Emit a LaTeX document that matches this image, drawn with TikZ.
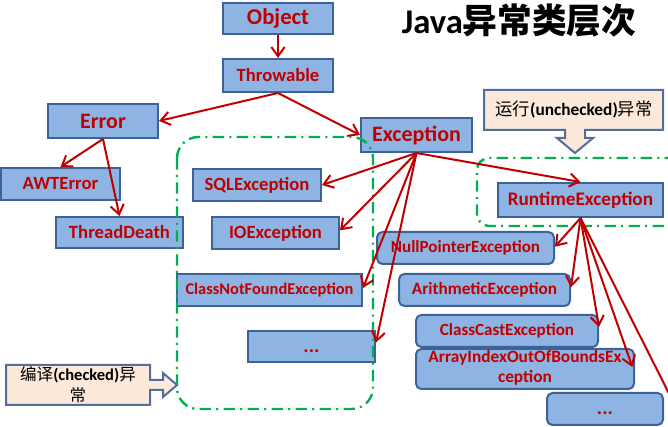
\documentclass[tikz,border=0pt]{standalone}
\usepackage{fontspec}
\setmainfont{Carlito}
\newfontfamily\cjk{Noto Sans CJK SC}
\usetikzlibrary{arrows.meta}
\definecolor{boxfill}{RGB}{142,180,227}
\definecolor{boxline}{RGB}{60,98,152}
\definecolor{txtred}{RGB}{192,0,0}
\definecolor{callfill}{RGB}{253,233,217}
\definecolor{calline}{RGB}{80,110,160}
\definecolor{grn}{RGB}{0,176,80}
\begin{document}
\begin{tikzpicture}[x=0.75pt,y=-0.75pt,
  cls/.style={draw=boxline, fill=boxfill, line width=1.5pt, inner sep=0pt, text=txtred, font=\bfseries},
  rcls/.style={cls, rounded corners=4pt},
  dotbox/.style={text height=9pt, text depth=0pt},
  inh/.style={draw=txtred, line width=1.5pt, -{Straight Barb[length=7pt,width=10pt]}},
  grp/.style={draw=grn, line width=1.8pt, dash pattern=on 8.5pt off 4pt on 1.5pt off 4pt},
  callout/.style={draw=calline, fill=callfill, line width=1.5pt, line join=miter}]
\useasboundingbox (0,0) rectangle (668,427);

% title
\node (title) at (519,21) {\bfseries\fontsize{26}{30}\selectfont Java{\cjk 异常类层次}};

% classes
\node[cls, minimum width=82.5pt, minimum height=23.25pt] (obj) at (278,18.5) {\fontsize{17}{20}\selectfont Object};
\node[cls, minimum width=82.5pt, minimum height=24.75pt] (thr) at (278,75.5) {\fontsize{14}{17}\selectfont Throwable};
\node[cls, minimum width=82.5pt, minimum height=25.5pt] (err) at (103,121) {\fontsize{16.5}{20}\selectfont Error};
\node[cls, minimum width=89.25pt, minimum height=24pt] (awt) at (60.5,184) {\fontsize{14}{17}\selectfont AWTError};
\node[cls, minimum width=95.25pt, minimum height=23.25pt] (td) at (119.5,232.5) {\fontsize{14}{17}\selectfont ThreadDeath};
\node[cls, minimum width=96pt, minimum height=24pt] (sql) at (257,185) {\fontsize{14}{17}\selectfont SQLException};
\node[cls, minimum width=95.25pt, minimum height=24pt] (io) at (275.5,233) {\fontsize{14}{17}\selectfont IOException};
\node[cls, minimum width=138.75pt, minimum height=24pt] (cnf) at (269.5,290) {\fontsize{12.3}{15}\selectfont ClassNotFoundException};
\node[cls, dotbox, minimum width=95.25pt, minimum height=23.25pt] (dl) at (311.5,346.5) {\fontsize{15}{17}\selectfont ...};
\node[cls, minimum width=83.25pt, minimum height=25.5pt] (exc) at (416.5,135) {\fontsize{16.5}{20}\selectfont Exception};
\node[cls, minimum width=123.75pt, minimum height=25.5pt] (rt) at (580.5,200) {\fontsize{14.4}{17}\selectfont RuntimeException};
\node[rcls, minimum width=132.75pt, minimum height=24pt] (npe) at (465.5,248) {\fontsize{12.8}{15}\selectfont NullPointerException};
\node[rcls, minimum width=128.25pt, minimum height=24pt] (ari) at (484.5,290) {\fontsize{12.9}{15}\selectfont ArithmeticException};
\node[rcls, minimum width=136.5pt, minimum height=24pt] (cce) at (507,331) {\fontsize{12.8}{15}\selectfont ClassCastException};
\node[rcls, minimum width=163.5pt, minimum height=24pt] (aio) at (525,369) {\fontsize{13}{15}\selectfont\begin{tabular}{@{}c@{}}ArrayIndexOutOfBoundsEx\\ception\end{tabular}};
\node[rcls, dotbox, minimum width=87pt, minimum height=24pt] (dr) at (605,409) {\fontsize{15}{17}\selectfont ...};
\coordinate (off) at (700,455);

% groups
\draw[grp, rounded corners=16pt] (177,137) rectangle (373,409);
\draw[grp, rounded corners=9pt] (700,158) -- (477,158) -- (477,226) -- (700,226);

% callouts
\draw[callout] (484,90) -- (663,90) -- (663,130) -- (585,130) -- (585,138) -- (593,138) -- (575,153) -- (557,138) -- (565,138) -- (565,130) -- (484,130) -- cycle;
\node (uc) at (574,110) {\fontsize{13}{15}\selectfont{\cjk 运行}\textbf{(unchecked)}{\cjk 异常}};
\draw[callout] (6,365) -- (150,365) -- (150,380) -- (163,380) -- (163,373) -- (177,385) -- (163,397) -- (163,390) -- (150,390) -- (150,405) -- (6,405) -- cycle;
\node[align=center, font=\fontsize{12.4}{15.75}\selectfont] (ck) at (78,385) {{\cjk 编译}\textbf{(checked)}{\cjk 异}\\{\cjk 常}};

% inheritance arrows
\draw[inh] (obj.south) -- (thr.north);
\draw[inh] (thr.south) -- (err.east);
\draw[inh] (thr.south) -- (exc.west);
\draw[inh] (err.south) -- (awt.north);
\draw[inh] (err.south) -- (td.north);
\draw[inh] (exc.south) -- (sql.east);
\draw[inh] (exc.south) -- ([yshift=2pt]io.east);
\draw[inh] (exc.south) -- ([yshift=1.5pt]cnf.east);
\draw[inh] (exc.south) -- ([yshift=3pt]dl.east);
\draw[inh] (exc.south) -- (rt.north);
\draw[inh] (rt.south) -- ([yshift=1pt]npe.east);
\draw[inh] (rt.south) -- ([yshift=2pt]ari.east);
\draw[inh] (rt.south) -- ([yshift=3pt]cce.east);
\draw[inh] (rt.south) -- ([xshift=-2pt,yshift=1.5pt]aio.east);
\draw[inh] (rt.south) -- (off);
\end{tikzpicture}
\end{document}
